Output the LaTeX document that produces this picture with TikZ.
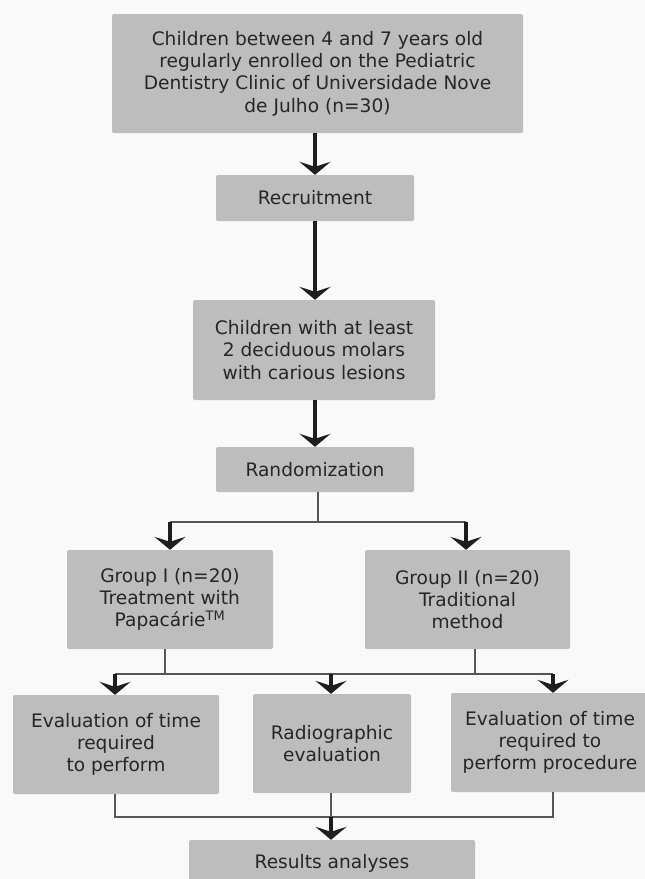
\documentclass[tikz,border=0pt]{standalone}
\usepackage{fontspec}
\setmainfont{DejaVu Sans}
\usetikzlibrary{arrows.meta}
\definecolor{bg}{HTML}{F9F9F9}
\definecolor{boxfill}{HTML}{BDBDBD}
\definecolor{txt}{HTML}{262626}
\definecolor{arrc}{HTML}{1E1E1E}
\definecolor{linec}{HTML}{555555}
\tikzset{
  box/.style={fill=boxfill, rounded corners=2pt, text=txt, align=center,
    font=\fontsize{18.6}{22.3}\selectfont, inner sep=0pt, anchor=center},
  arr/.style={draw=arrc, line width=4.5pt,
    -{Stealth[length=13pt,width=31pt,inset=5pt]}},
  ln/.style={draw=linec, line width=1.3pt}
}
\begin{document}
\begin{tikzpicture}[x=1pt,y=-1pt]
\useasboundingbox (0,0) rectangle (645,879);
\fill[bg] (0,0) rectangle (645,879);

\node[box, minimum width=411pt, minimum height=119pt] (top) at (317.5,73.5)
  {Children between 4 and 7 years old\\regularly enrolled on the Pediatric\\Dentistry Clinic of Universidade Nove\\de Julho (n=30)};
\node[box, minimum width=198pt, minimum height=46pt] (rec) at (315,198) {Recruitment};
\node[box, minimum width=242pt, minimum height=100pt] (sel) at (314,350)
  {Children with at least\\2 deciduous molars\\with carious lesions};
\node[box, minimum width=198pt, minimum height=45pt] (rnd) at (315,469.5) {Randomization};
\node[box, minimum width=206pt, minimum height=99pt] (g1) at (170,599.5)
  {Group I (n=20)\\Treatment with\\Papacárie\textsuperscript{TM}};
\node[box, minimum width=205pt, minimum height=99pt] (g2) at (467.5,599.5)
  {Group II (n=20)\\Traditional\\method};
\node[box, minimum width=206pt, minimum height=99pt] (e1) at (116,744.5)
  {Evaluation of time\\required\\to perform};
\node[box, minimum width=158pt, minimum height=99pt] (rad) at (332,743.5)
  {Radiographic\\evaluation};
\node[box, minimum width=198pt, minimum height=99pt] (e3) at (550,742.5)
  {Evaluation of time\\required to\\perform procedure};
\node[box, minimum width=286pt, minimum height=46pt] (res) at (332,863) {Results analyses};

\coordinate (j1) at (318,522);
\coordinate (b1) at (170,522);
\coordinate (b2) at (466,522);
\coordinate (c1) at (165,674);
\coordinate (c2) at (475,674);
\coordinate (d1) at (115,674);
\coordinate (d2) at (331,674);
\coordinate (d3) at (553,674);
\coordinate (f1) at (115,817);
\coordinate (f2) at (331,817);
\coordinate (f3) at (553,817);

\draw[arr] (top.south -| rec.north) -- (rec.north);
\draw[arr] (rec.south) -- (sel.north -| rec.south);
\draw[arr] (sel.south -| rnd.north) -- (rnd.north);

\draw[ln] (j1 |- rnd.south) -- (j1);
\draw[ln] (b1) -- (b2);
\draw[arr] (b1) -- (b1 |- g1.north);
\draw[arr] (b2) -- (b2 |- g2.north);

\draw[ln] (c1 |- g1.south) -- (c1);
\draw[ln] (c2 |- g2.south) -- (c2);
\draw[ln] (d1) -- (d3);
\draw[arr] (d1) -- (d1 |- e1.north);
\draw[arr] (d2) -- (d2 |- rad.north);
\draw[arr] (d3) -- (d3 |- e3.north);

\draw[ln] (f1 |- e1.south) -- (f1) -- (f3) -- (f3 |- e3.south);
\draw[ln] (f2 |- rad.south) -- (f2);
\draw[arr] (f2) -- (f2 |- res.north);
\end{tikzpicture}
\end{document}
